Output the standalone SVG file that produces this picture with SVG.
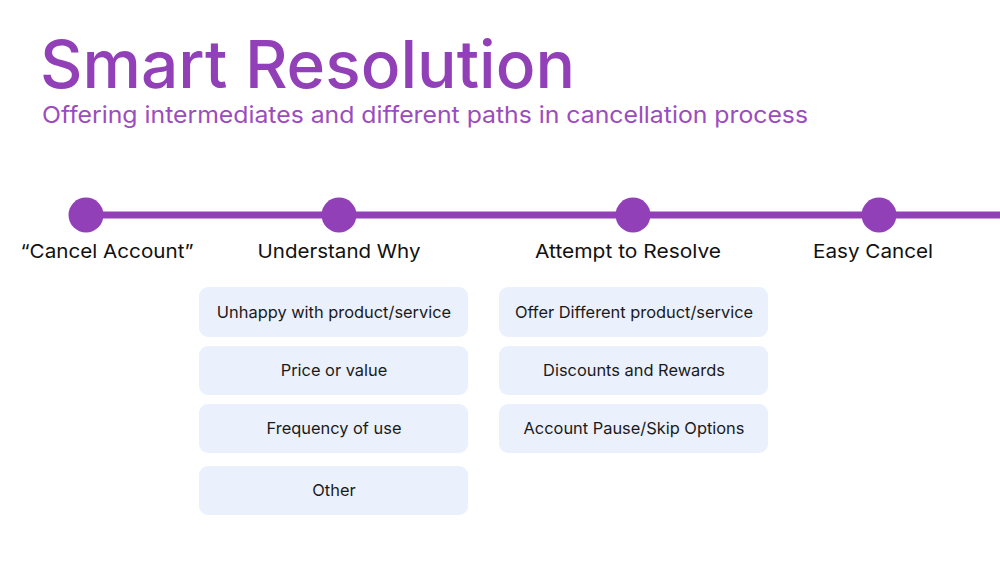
<svg xmlns="http://www.w3.org/2000/svg" width="1000" height="563" viewBox="0 0 1000 563">
<style>
.title{font-family:Inter,"Noto Sans",sans-serif;font-size:66px;font-weight:500;fill:#9240B8}
.sub{font-family:Inter,"Noto Sans",sans-serif;font-size:23px;fill:#9B4CC0}
.lbl{font-family:Inter,"Noto Sans",sans-serif;font-size:19px;fill:#111;text-anchor:middle}
.box rect{fill:#EAF0FC}
.box text{font-family:Inter,"Noto Sans",sans-serif;font-size:16.4px;fill:#1a1a1a;text-anchor:middle}
.dot{fill:#9240B8}
</style>
<rect width="1000" height="563" fill="#fff"/>
<text class="title" x="40" y="88" textLength="535" lengthAdjust="spacingAndGlyphs">Smart Resolution</text>
<text class="sub" x="42" y="123" textLength="766" lengthAdjust="spacingAndGlyphs">Offering intermediates and different paths in cancellation process</text>
<g id="connectors">
<line x1="86" y1="215" x2="1000" y2="215" stroke="#9240B8" stroke-width="7"/>
</g>
<g id="n1"><circle class="dot" cx="86" cy="215" r="17.5"/><text class="lbl" x="107" y="258" textLength="173" lengthAdjust="spacingAndGlyphs">“Cancel Account”</text></g>
<g id="n2"><circle class="dot" cx="339" cy="215" r="17.5"/><text class="lbl" x="339" y="258" textLength="163" lengthAdjust="spacingAndGlyphs">Understand Why</text></g>
<g id="n3"><circle class="dot" cx="633" cy="215" r="17.5"/><text class="lbl" x="628" y="258" textLength="186" lengthAdjust="spacingAndGlyphs">Attempt to Resolve</text></g>
<g id="n4"><circle class="dot" cx="879" cy="215" r="17.5"/><text class="lbl" x="873" y="258" textLength="120" lengthAdjust="spacingAndGlyphs">Easy Cancel</text></g>
<g id="b1" class="box"><rect x="199" y="287" width="269" height="50" rx="9"/><text x="334" y="318">Unhappy with product/service</text></g>
<g id="b2" class="box"><rect x="199" y="346" width="269" height="49" rx="9"/><text x="334" y="376">Price or value</text></g>
<g id="b3" class="box"><rect x="199" y="404" width="269" height="49" rx="9"/><text x="334" y="434">Frequency of use</text></g>
<g id="b4" class="box"><rect x="199" y="466" width="269" height="49" rx="9"/><text x="334" y="496">Other</text></g>
<g id="b5" class="box"><rect x="499" y="287" width="269" height="50" rx="9"/><text x="634" y="318">Offer Different product/service</text></g>
<g id="b6" class="box"><rect x="499" y="346" width="269" height="49" rx="9"/><text x="634" y="376">Discounts and Rewards</text></g>
<g id="b7" class="box"><rect x="499" y="404" width="269" height="49" rx="9"/><text x="634" y="434">Account Pause/Skip Options</text></g>
</svg>
